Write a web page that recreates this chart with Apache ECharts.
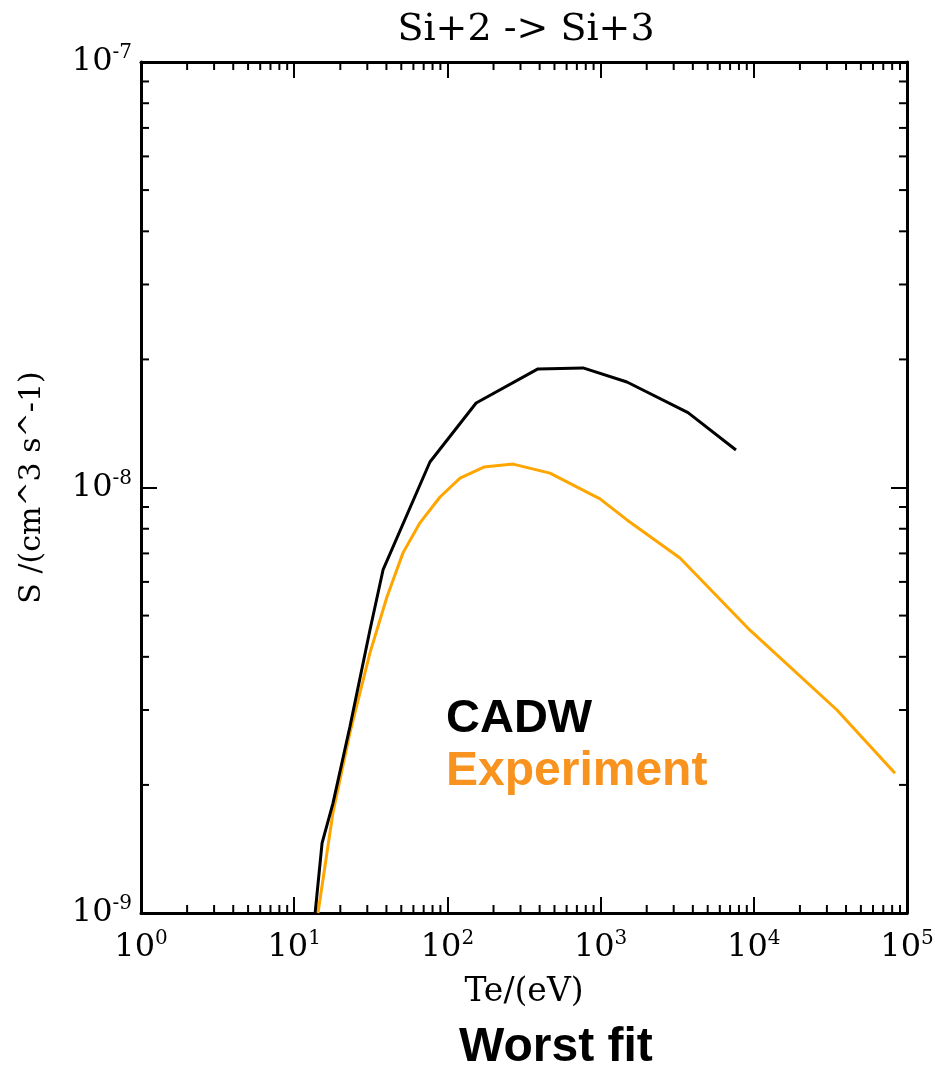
<!DOCTYPE html>
<html>
<head>
	<meta charset="UTF-8">
	<title>Si+2 -> Si+3</title>
	<script src="https://cdn.jsdelivr.net/npm/echarts@6/dist/echarts.min.js"></script>
	<style>
		html, body { margin: 0; padding: 0; background: #fff; }
		#chart { width: 935px; height: 1072px; }
	</style>
</head>
<body>
<div id="chart"></div>
<script type="text/javascript">
	// CADW curve, Te (eV) vs S (cm^3 s^-1)
	var cadwTe = [13.7, 15.2, 17.9, 23.1, 31.2, 38.0, 76.9, 154, 390, 768, 1486, 3720, 7650];
	var cadwS  = [1.0e-9, 1.46e-9, 1.81e-9, 2.74e-9, 4.62e-9, 6.4e-9, 1.148e-8, 1.58e-8, 1.90e-8, 1.91e-8, 1.77e-8, 1.50e-8, 1.225e-8];

	// experiment curve
	var expTe = [14.3, 15.4, 17.9, 23.1, 31.2, 40.3, 51.3, 66.2, 89.5, 121, 173, 268, 467, 991, 1487, 3296, 9440, 34900, 83500];
	var expS  = [1.0e-9, 1.196e-9, 1.72e-9, 2.65e-9, 4.08e-9, 5.53e-9, 7.02e-9, 8.26e-9, 9.5e-9, 1.052e-8, 1.117e-8, 1.135e-8, 1.081e-8, 9.4e-9, 8.39e-9, 6.83e-9, 4.62e-9, 3.0e-9, 2.13e-9];

	var xMin = 1, xMax = 1e5;
	var yMin = 1e-9, yMax = 1e-7;

	// minor tick values (2..9 in every decade)
	var xMinorTicks = [];
	for (var k = 0; k < 5; k++) {
		for (var m = 2; m <= 9; m++) xMinorTicks.push(m * Math.pow(10, k));
	}
	var yMinorTicks = [];
	for (var k2 = -9; k2 < -7; k2++) {
		for (var m2 = 2; m2 <= 9; m2++) yMinorTicks.push(m2 * Math.pow(10, k2));
	}

	var serif = 'DejaVu Serif';

	function powLabel(value) {
		var e = Math.round(Math.log10(value));
		return '10{sup|' + e + '}';
	}
	var axisLabelBase = {
		formatter: powLabel,
		fontFamily: serif, fontSize: 32, color: '#000',
		rich: {
			sup: { fontFamily: serif, fontSize: 20, color: '#000', padding: [0, 0, 18, 0] }
		}
	};

	function pair(a, b) {
		var out = [];
		for (var i = 0; i < a.length; i++) out.push([a[i], b[i]]);
		return out;
	}

	var lineStyleAxis = { color: '#000', width: 3 };
	var majorTick = { inside: true, length: 16, lineStyle: { color: '#000', width: 2 } };

	var myChart = echarts.init(document.getElementById('chart'));
	var option = {
		animation: false,
		backgroundColor: '#fff',
		title: {
			text: 'Si+2 -> Si+3',
			left: 521,
			top: 6,
			textAlign: 'center',
			textStyle: { fontFamily: serif, fontSize: 38, fontWeight: 'normal', color: '#000' }
		},
		grid: { left: 141, right: 28, top: 62, bottom: 159, outerBoundsMode: 'none' },
		xAxis: [{
			type: 'log', logBase: 10, min: xMin, max: xMax, interval: 1,
			position: 'bottom',
			name: 'Te/(eV)', nameLocation: 'middle', nameGap: 63,
			nameTextStyle: { fontFamily: serif, fontSize: 33, color: '#000' },
			axisLine: { lineStyle: lineStyleAxis },
			axisTick: majorTick,
			axisLabel: Object.assign({ margin: 16 }, axisLabelBase),
			splitLine: { show: false }
		}, {
			type: 'log', logBase: 10, min: xMin, max: xMax, interval: 1,
			position: 'top',
			axisLine: { lineStyle: lineStyleAxis },
			axisTick: majorTick,
			axisLabel: { show: false },
			splitLine: { show: false }
		}],
		yAxis: [{
			type: 'log', logBase: 10, min: yMin, max: yMax, interval: 1,
			position: 'left',
			name: 'S /(cm^3 s^-1)', nameLocation: 'middle', nameGap: 94, nameRotate: 90,
			nameTextStyle: { fontFamily: serif, fontSize: 30, color: '#000' },
			axisLine: { lineStyle: lineStyleAxis },
			axisTick: majorTick,
			axisLabel: Object.assign({ margin: 9 }, axisLabelBase),
			splitLine: { show: false }
		}, {
			type: 'log', logBase: 10, min: yMin, max: yMax, interval: 1,
			position: 'right',
			axisLine: { lineStyle: lineStyleAxis },
			axisTick: majorTick,
			axisLabel: { show: false },
			splitLine: { show: false }
		}],
		series: [{
			name: 'CADW', type: 'line',
			data: pair(cadwTe, cadwS),
			showSymbol: false, symbol: 'none',
			lineStyle: { color: '#000', width: 3 },
			clip: true, z: 3
		}, {
			name: 'Experiment', type: 'line',
			data: pair(expTe, expS),
			showSymbol: false, symbol: 'none',
			lineStyle: { color: '#FFA500', width: 3 },
			clip: true, z: 2
		}, {
			// minor ticks on bottom and top
			type: 'custom', silent: true,
			data: xMinorTicks.map(function (v) { return [v, yMin]; }),
			renderItem: function (params, api) {
				var v = api.value(0);
				var pb = api.coord([v, yMin]);
				var pt = api.coord([v, yMax]);
				var st = { stroke: '#000', lineWidth: 2 };
				return { type: 'group', children: [
					{ type: 'line', shape: { x1: pb[0], y1: pb[1], x2: pb[0], y2: pb[1] - 8 }, style: st },
					{ type: 'line', shape: { x1: pt[0], y1: pt[1], x2: pt[0], y2: pt[1] + 8 }, style: st }
				] };
			},
			z: 5
		}, {
			// minor ticks on left and right
			type: 'custom', silent: true,
			data: yMinorTicks.map(function (v) { return [xMin, v]; }),
			renderItem: function (params, api) {
				var v = api.value(1);
				var pl = api.coord([xMin, v]);
				var pr = api.coord([xMax, v]);
				var st = { stroke: '#000', lineWidth: 2 };
				return { type: 'group', children: [
					{ type: 'line', shape: { x1: pl[0], y1: pl[1], x2: pl[0] + 8, y2: pl[1] }, style: st },
					{ type: 'line', shape: { x1: pr[0], y1: pr[1], x2: pr[0] - 8, y2: pr[1] }, style: st }
				] };
			},
			z: 5
		}],
		graphic: [{
			type: 'text', left: 446, top: 696,
			style: { text: 'CADW', fill: '#000', font: 'bold 47px "Liberation Sans", Arial, sans-serif' }
		}, {
			type: 'text', left: 446, top: 748,
			style: { text: 'Experiment', fill: '#F7931E', font: 'bold 48px "Liberation Sans", Arial, sans-serif' }
		}, {
			type: 'text', left: 459, top: 1024,
			style: { text: 'Worst fit', fill: '#000', font: 'bold 48px "Liberation Sans", Arial, sans-serif' }
		}]
	};
	myChart.setOption(option);
</script>
</body>
</html>
